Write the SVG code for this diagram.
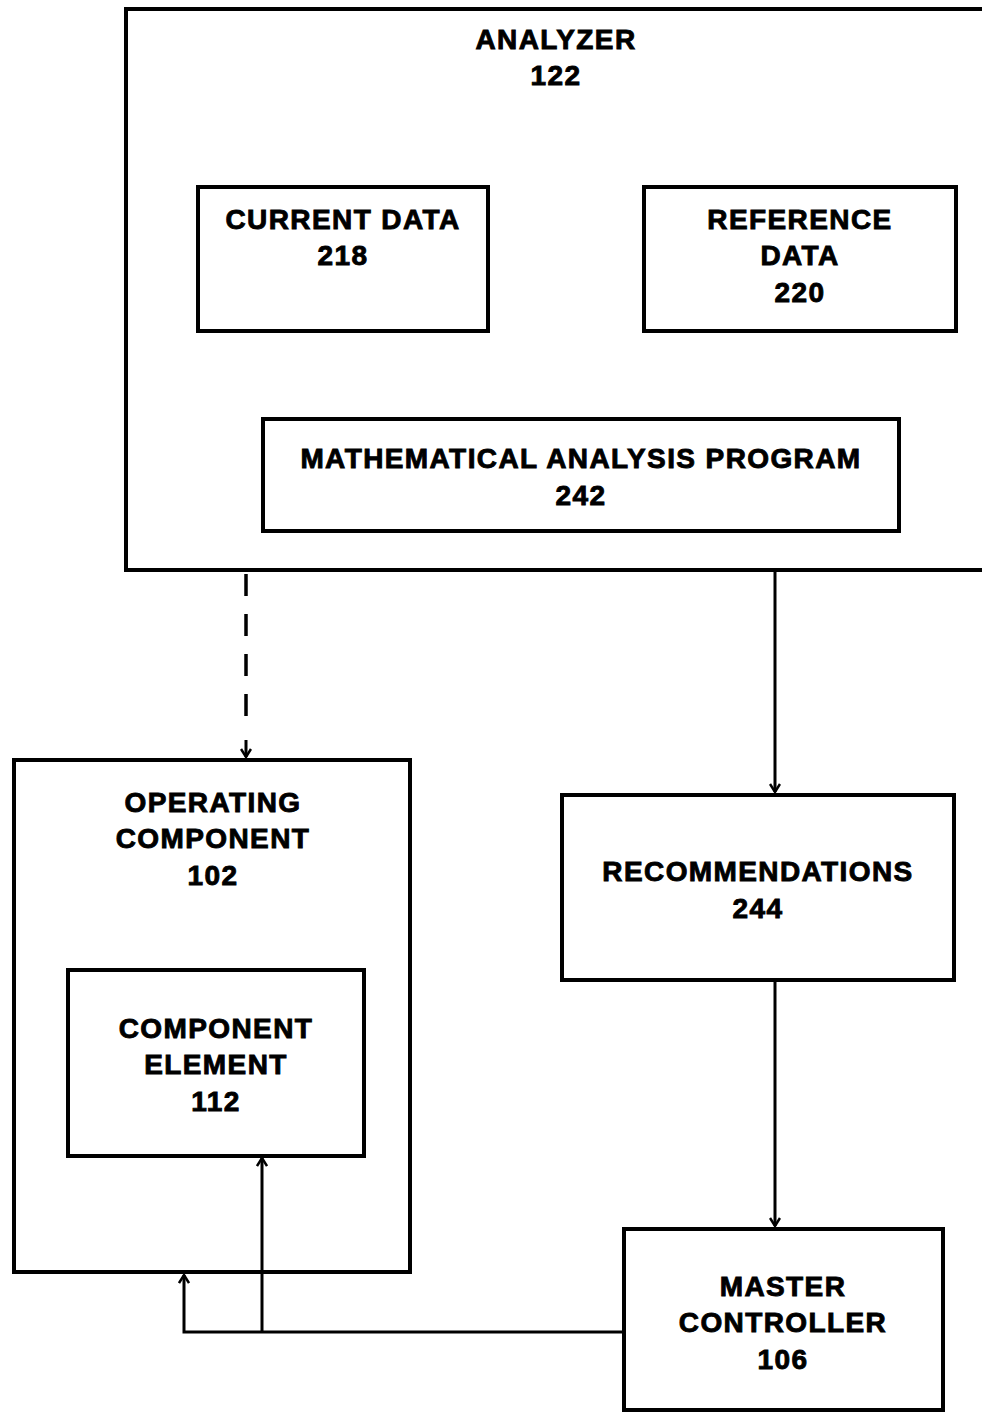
<svg xmlns="http://www.w3.org/2000/svg" width="982" height="1412" viewBox="0 0 982 1412">
<defs>
<style>
.box{fill:none;stroke:#000;stroke-width:4}
.t{font-family:"Liberation Sans",Arial,sans-serif;font-weight:bold;font-size:28px;letter-spacing:1.4px;fill:#000;stroke:#000;stroke-width:0.9px;text-anchor:middle}
.c{fill:none;stroke:#000;stroke-width:3}
.d{fill:none;stroke:#000;stroke-width:3.5;stroke-dasharray:22,18}
</style>
<marker id="ah" viewBox="0 0 12 12" refX="11" refY="6" markerWidth="12" markerHeight="12" markerUnits="userSpaceOnUse" orient="auto">
<path d="M3,1 L11,6 L3,11" fill="none" stroke="#000" stroke-width="2.5"/>
</marker>
</defs>
<rect width="982" height="1412" fill="#fff"/>
<g id="analyzer">
<rect class="box" x="126" y="9" width="870" height="561"/>
<text class="t" x="556" y="49">ANALYZER</text>
<text class="t" x="556" y="85">122</text>
</g>
<g id="current-data">
<rect class="box" x="198" y="187" width="290" height="144"/>
<text class="t" x="343" y="229">CURRENT DATA</text>
<text class="t" x="343" y="265">218</text>
</g>
<g id="reference-data">
<rect class="box" x="644" y="187" width="312" height="144"/>
<text class="t" x="800" y="229">REFERENCE</text>
<text class="t" x="800" y="265">DATA</text>
<text class="t" x="800" y="302">220</text>
</g>
<g id="math-program">
<rect class="box" x="263" y="419" width="636" height="112"/>
<text class="t" x="581" y="468">MATHEMATICAL ANALYSIS PROGRAM</text>
<text class="t" x="581" y="505">242</text>
</g>
<g id="operating-component">
<rect class="box" x="14" y="760" width="396" height="512"/>
<text class="t" x="213" y="812">OPERATING</text>
<text class="t" x="213" y="848">COMPONENT</text>
<text class="t" x="213" y="885">102</text>
</g>
<g id="component-element">
<rect class="box" x="68" y="970" width="296" height="186"/>
<text class="t" x="216" y="1038">COMPONENT</text>
<text class="t" x="216" y="1074">ELEMENT</text>
<text class="t" x="216" y="1111">112</text>
</g>
<g id="recommendations">
<rect class="box" x="562" y="795" width="392" height="185"/>
<text class="t" x="758" y="881">RECOMMENDATIONS</text>
<text class="t" x="758" y="918">244</text>
</g>
<g id="master-controller">
<rect class="box" x="624" y="1229" width="319" height="181"/>
<text class="t" x="783" y="1296">MASTER</text>
<text class="t" x="783" y="1332">CONTROLLER</text>
<text class="t" x="783" y="1369">106</text>
</g>
<g id="connectors">
<path class="d" d="M246,574 V730"/>
<path class="c" d="M246,740 V757" marker-end="url(#ah)"/>
<path class="c" d="M775,572 V792" marker-end="url(#ah)"/>
<path class="c" d="M775,982 V1226" marker-end="url(#ah)"/>
<path class="c" d="M622,1332 H184 V1275" marker-end="url(#ah)"/>
<path class="c" d="M262,1332 V1158" marker-end="url(#ah)"/>
</g>
</svg>
